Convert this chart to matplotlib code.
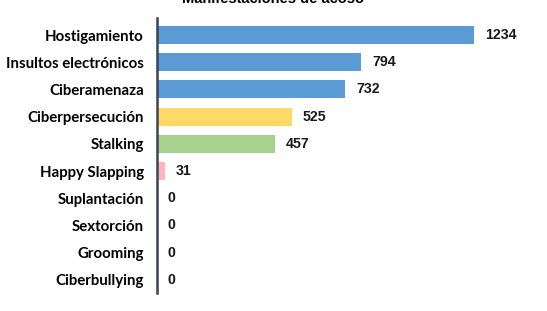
import matplotlib
matplotlib.use("Agg")
import matplotlib.pyplot as plt

categories = ["Hostigamiento", "Insultos electrónicos", "Ciberamenaza", "Ciberpersecución",
              "Stalking", "Happy Slapping", "Suplantación", "Sextorción", "Grooming", "Ciberbullying"]
values = [1234, 794, 732, 525, 457, 31, 0, 0, 0, 0]
colors = ["#5B9BD5", "#5B9BD5", "#5B9BD5", "#FFD966", "#A9D18E", "#FFB7B7",
          "#5B9BD5", "#5B9BD5", "#5B9BD5", "#5B9BD5"]
title = "Manifestaciones de acoso"

fig = plt.figure(figsize=(5.47, 3.11), dpi=100)
ax = fig.add_axes([0.287, 0.058, 0.703, 0.884])
y = list(range(len(categories)))
ax.barh(y, values, height=0.66, color=colors, edgecolor="none")
ax.set_ylim(9.48, -0.625)
ax.set_xlim(0, 1495)
ax.set_yticks(y)
ax.set_yticklabels(categories, fontsize=10.8, fontweight="bold", family="Lato")
ax.tick_params(axis="y", length=0, pad=9.5)
ax.set_xticks([])
for s in ["top", "right", "bottom"]:
    ax.spines[s].set_visible(False)
ax.spines["left"].set_color("#3b4455")
ax.spines["left"].set_linewidth(1.8)
for yi, v in zip(y, values):
    ax.text(v + 42, yi, str(v), va="center", ha="left", fontsize=10.2,
            fontweight="bold", family="Liberation Sans", color="#1a1a1a")
fig.text(0.5, 0.99, title, ha="center", va="baseline", fontsize=10.5,
         fontweight="bold", family="Liberation Sans")
fig.savefig("out.png", dpi=100)
